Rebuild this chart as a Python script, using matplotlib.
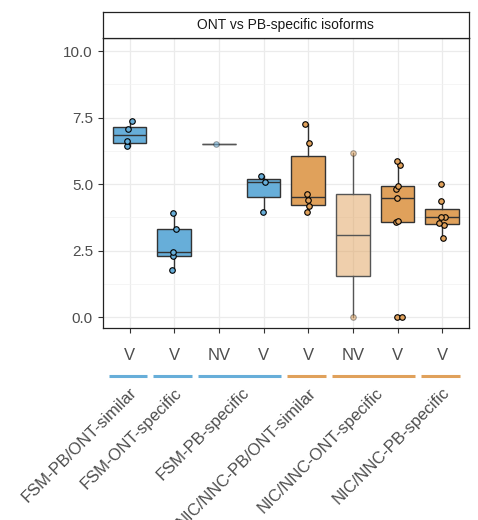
import matplotlib
matplotlib.use("Agg")
import matplotlib.pyplot as plt
import numpy as np

plt.rcParams["font.family"] = ["Liberation Sans", "DejaVu Sans"]

# one entry per box, left to right
subcategory = [
    "FSM-PB/ONT-similar", "FSM-ONT-specific", "FSM-PB-specific", "FSM-PB-specific",
    "NIC/NNC-PB/ONT-similar", "NIC/NNC-ONT-specific", "NIC/NNC-ONT-specific",
    "NIC/NNC-PB-specific",
]
validity = ["V", "V", "NV", "V", "V", "NV", "V", "V"]
family = ["FSM", "FSM", "FSM", "FSM", "NIC/NNC", "NIC/NNC", "NIC/NNC", "NIC/NNC"]

values = [
    [6.42, 6.61, 7.06, 7.36],
    [1.76, 2.29, 2.46, 3.32, 3.92],
    [6.52],
    [3.95, 5.09, 5.31],
    [3.95, 4.17, 4.41, 4.64, 6.55, 7.26],
    [0.00, 6.17],
    [0.00, 0.00, 3.58, 3.63, 4.50, 4.82, 4.94, 5.72, 5.88],
    [2.98, 3.48, 3.54, 3.75, 3.78, 4.38, 4.99],
]
# horizontal jitter of the points (category units)
jitter = [
    [-0.05, -0.05, -0.03, 0.06],
    [-0.05, -0.03, -0.02, 0.05, -0.03],
    [-0.07],
    [-0.01, 0.04, -0.05],
    [-0.02, 0.02, 0.00, -0.02, 0.015, -0.07],
    [0.01, 0.01],
    [-0.02, 0.11, -0.04, 0.02, -0.015, -0.045, 0.02, 0.06, -0.01],
    [0.01, 0.03, -0.07, 0.07, -0.03, -0.02, -0.03],
]

family_colors = {"FSM": "#67AED9", "NIC/NNC": "#E0A15B"}
nv_alpha = 0.5

fig = plt.figure(figsize=(4.78, 5.2), dpi=100)
W, H = 478, 520
px_l, px_r, px_t, px_b = 102.7, 469, 38, 328
ax = fig.add_axes([px_l / W, 1 - px_b / H, (px_r - px_l) / W, (px_b - px_t) / H])

for i, vals in enumerate(values):
    col = family_colors[family[i]]
    nv = validity[i] == "NV"
    a = nv_alpha if nv else 1.0
    edge = "#555555" if nv else "#333333"
    ax.boxplot(
        vals, positions=[i], widths=0.75, patch_artist=True, showfliers=False,
        showcaps=False, whis=1.5, manage_ticks=False,
        boxprops=dict(facecolor=matplotlib.colors.to_rgba(col, a), edgecolor=edge, lw=1.0),
        medianprops=dict(color=edge, lw=1.0),
        whiskerprops=dict(color=edge, lw=1.0),
        zorder=2,
    )
    ax.scatter(
        np.array(jitter[i]) + i, vals, s=16,
        facecolor=matplotlib.colors.to_rgba(col, a),
        edgecolor=(0, 0, 0, 0.35 if nv else 1.0), lw=0.8, zorder=3,
    )

ax.set_xlim(-0.6, len(values) - 0.4)
ax.set_ylim(-0.40, 10.49)
ax.set_yticks(np.arange(0, 10.01, 2.5))
ax.set_yticks(np.arange(1.25, 10.1, 2.5), minor=True)
ax.set_yticklabels([f"{v:.1f}" for v in np.arange(0, 10.01, 2.5)])
ax.set_xticks(range(len(values)))
ax.set_xticklabels([])
ax.grid(which="major", color="#EBEBEB", lw=0.9, zorder=0)
ax.grid(which="minor", axis="y", color="#F2F2F2", lw=0.5, zorder=0)
ax.set_axisbelow(True)
ax.tick_params(axis="both", which="major", length=3.5, width=0.8, color="#333333",
               labelsize=11, labelcolor="#4D4D4D")
ax.tick_params(axis="y", which="minor", length=0)
for s in ax.spines.values():
    s.set_color("#222222")
    s.set_linewidth(0.9)

# facet strip
strip = fig.add_axes([px_l / W, 1 - px_t / H, (px_r - px_l) / W, 26 / H])
strip.set_xticks([])
strip.set_yticks([])
for s in strip.spines.values():
    s.set_color("#222222")
    s.set_linewidth(0.9)
strip.text(0.5, 0.5, "ONT vs PB-specific isoforms", ha="center", va="center",
           fontsize=10, color="#1A1A1A", transform=strip.transAxes)

# nested x axis: validity labels, coloured group bars, group names
trans = ax.get_xaxis_transform()
panel_h = px_b - px_t
for i, v in enumerate(validity):
    ax.text(i, -(356 - px_b) / panel_h, v, ha="center", va="center", fontsize=12,
            color="#4D4D4D", transform=trans, clip_on=False)

groups = []
for i, name in enumerate(subcategory):
    if groups and groups[-1][0] == name:
        groups[-1][2] = i
    else:
        groups.append([name, i, i])

for name, first, last in groups:
    col = family_colors[family[first]]
    ax.plot([first - 0.47, last + 0.4], [-(376 - px_b) / panel_h] * 2, color=col,
            lw=2.2, transform=trans, clip_on=False, solid_capstyle="butt")
    ax.text((first + last) / 2, -(385 - px_b) / panel_h, name, ha="right", va="top",
            rotation=45, rotation_mode="anchor", fontsize=12, color="#4D4D4D",
            transform=trans, clip_on=False)

fig.savefig("out.png", dpi=100)
